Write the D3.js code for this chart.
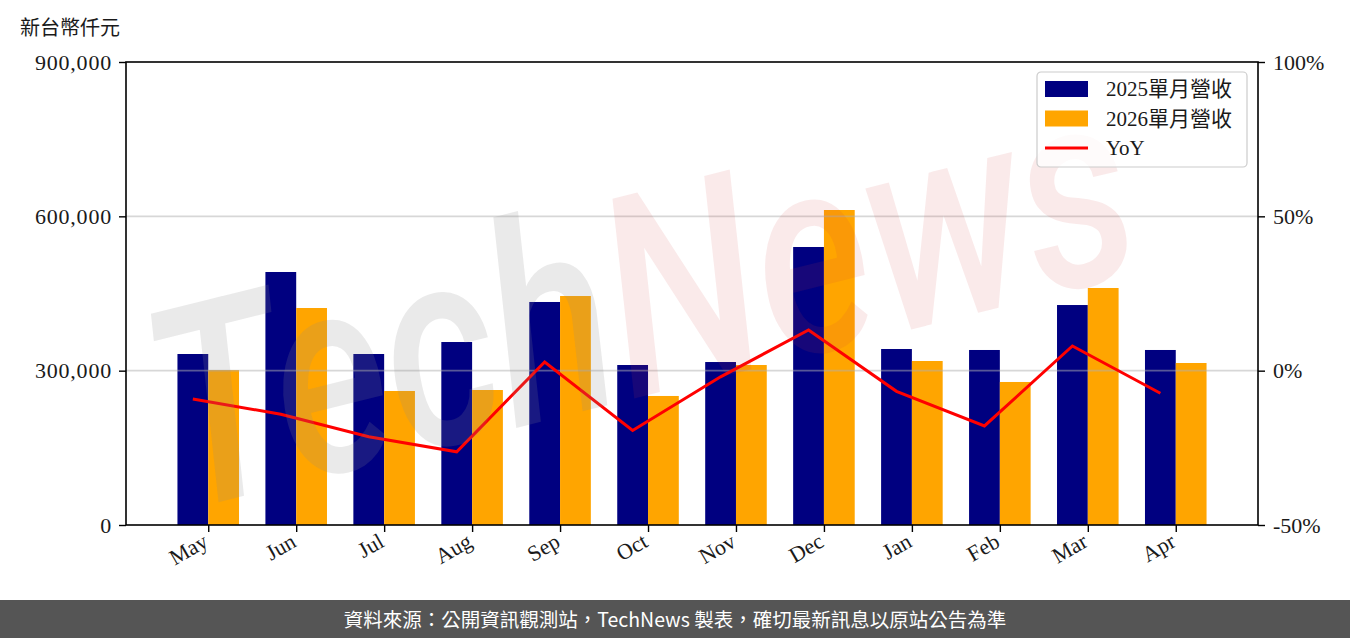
<!DOCTYPE html>
<html><head><meta charset="utf-8">
<script src="https://cdn.jsdelivr.net/npm/d3@7"></script>
<style>
html,body{margin:0;padding:0;background:#fff;}
svg{display:block;}
</style></head>
<body>
<svg id="chart" width="1350" height="638"></svg>
<script>
const months = ["May","Jun","Jul","Aug","Sep","Oct","Nov","Dec","Jan","Feb","Mar","Apr"];
const rev2025 = [332400,491800,332400,355700,433500,311000,316800,540400,342100,340200,427600,340200];
const rev2026 = [301300,421800,260500,262400,445100,250800,311000,612300,318800,278000,460700,314900];
const yoy = [-9.2,-14.1,-21.4,-26.3,2.8,-19.4,-2.0,13.2,-6.7,-17.9,8.0,-7.3];
const leftTicks = [0,300000,600000,900000];
const rightTicks = [-50,0,50,100];
const seriesNames = ["2025單月營收","2026單月營收","YoY"];
const unitLabel = "新台幣仟元";
const footerText = "資料來源：公開資訊觀測站，TechNews 製表，確切最新訊息以原站公告為準";

const W = 1350, H = 638;
const m = {left:126, right:1258, top:62, bottom:525};
const serif = "'Liberation Serif','Noto Sans CJK TC',serif";
const svg = d3.select("#chart");

const x = d3.scaleLinear().domain([-0.935, 11.935]).range([m.left, m.right]);
const y = d3.scaleLinear().domain([0, 900000]).range([m.bottom, m.top]);
const y2 = d3.scaleLinear().domain([-50, 100]).range([m.bottom, m.top]);
const bw = 0.35;
const colors = ["#000080","#FFA500","#FF0000"];

// bars
const g = svg.append("g");
g.selectAll("rect.b25").data(rev2025).enter().append("rect")
  .attr("x",(d,i)=>x(i-bw)).attr("width",x(bw)-x(0))
  .attr("y",d=>y(d)).attr("height",d=>y(0)-y(d)).attr("fill",colors[0]);
g.selectAll("rect.b26").data(rev2026).enter().append("rect")
  .attr("x",(d,i)=>x(i)).attr("width",x(bw)-x(0))
  .attr("y",d=>y(d)).attr("height",d=>y(0)-y(d)).attr("fill",colors[1]);

// gridlines on top
svg.append("g").selectAll("line").data(leftTicks.filter(t=>t>0 && t<900000)).enter().append("line")
  .attr("x1",m.left).attr("x2",m.right).attr("y1",d=>y(d)).attr("y2",d=>y(d))
  .attr("stroke","#b0b0b0").attr("stroke-opacity",0.5).attr("stroke-width",1.6);

// YoY line
const line = d3.line().x((d,i)=>x(i-bw/2)).y(d=>y2(d));
svg.append("path").datum(yoy).attr("d",line).attr("fill","none")
  .attr("stroke",colors[2]).attr("stroke-width",3).attr("stroke-linejoin","miter");

// watermark
const wm = svg.append("g").attr("transform","translate(640,294) rotate(-14)");
const wt = wm.append("text").attr("text-anchor","middle").attr("y",100)
  .attr("font-family","Roboto, sans-serif").attr("font-style","italic").attr("font-weight",500)
  .attr("font-size",280).attr("textLength",1000).attr("lengthAdjust","spacingAndGlyphs");
wt.append("tspan").text("Tech").attr("fill","#8c8c8c").attr("fill-opacity",0.18);
wt.append("tspan").text("News").attr("fill","#d23c3c").attr("fill-opacity",0.11);

// axes
const fs = 22;
const axL = svg.append("g").attr("transform",`translate(${m.left},0)`)
  .call(d3.axisLeft(y).tickValues(leftTicks).tickFormat(d3.format(",")).tickSizeOuter(0).tickSize(7).tickPadding(7));
const axR = svg.append("g").attr("transform",`translate(${m.right},0)`)
  .call(d3.axisRight(y2).tickValues(rightTicks).tickFormat(d=>d+"%").tickSizeOuter(0).tickSize(7).tickPadding(8));
const axB = svg.append("g").attr("transform",`translate(0,${m.bottom})`)
  .call(d3.axisBottom(x).tickValues(d3.range(12)).tickFormat(i=>months[i]).tickSizeOuter(0).tickSize(7).tickPadding(8));
[axL,axR,axB].forEach(a=>{
  a.select(".domain").remove();
  a.selectAll("line").attr("stroke","#000").attr("stroke-width",1.4);
  a.selectAll("text").attr("font-family",serif).attr("font-size",fs).attr("fill","#1a1a1a");
});
axL.selectAll("text").attr("letter-spacing","0.8px");
axB.selectAll("text").attr("text-anchor","end").attr("dy","0.35em")
  .attr("transform","translate(-3,14) rotate(-30)").attr("y",0).attr("x",0);

// frame
svg.append("rect").attr("x",m.left).attr("y",m.top).attr("width",m.right-m.left).attr("height",m.bottom-m.top)
  .attr("fill","none").attr("stroke","#000").attr("stroke-width",1.6);

// unit label
svg.append("text").attr("x",20).attr("y",35).text(unitLabel)
  .attr("font-family","'Noto Sans CJK TC',serif").attr("font-size",20).attr("fill","#1a1a1a");

// legend
const lg = svg.append("g").attr("transform","translate(1037,72)");
lg.append("rect").attr("width",210).attr("height",95).attr("rx",4).attr("fill","#fff").attr("fill-opacity",0.8)
  .attr("stroke","#cccccc").attr("stroke-width",1.2);
seriesNames.forEach((n,i)=>{
  const cy = 17 + i*29.5;
  if(i<2) lg.append("rect").attr("x",8).attr("y",cy-8).attr("width",43).attr("height",16).attr("fill",colors[i]);
  else lg.append("line").attr("x1",8).attr("x2",51).attr("y1",cy).attr("y2",cy).attr("stroke",colors[i]).attr("stroke-width",3);
  lg.append("text").attr("x",69).attr("y",cy).attr("dy","0.35em").text(n)
    .attr("font-family",serif).attr("font-size",21).attr("fill","#1a1a1a");
});

// footer
svg.append("rect").attr("x",0).attr("y",600).attr("width",W).attr("height",38).attr("fill","#555555");
svg.append("text").attr("x",675).attr("y",620).attr("dy","0.35em").attr("text-anchor","middle")
  .text(footerText).attr("font-family","'Noto Sans CJK TC',sans-serif").attr("font-size",19.5).attr("fill","#fff");
</script>
</body></html>
